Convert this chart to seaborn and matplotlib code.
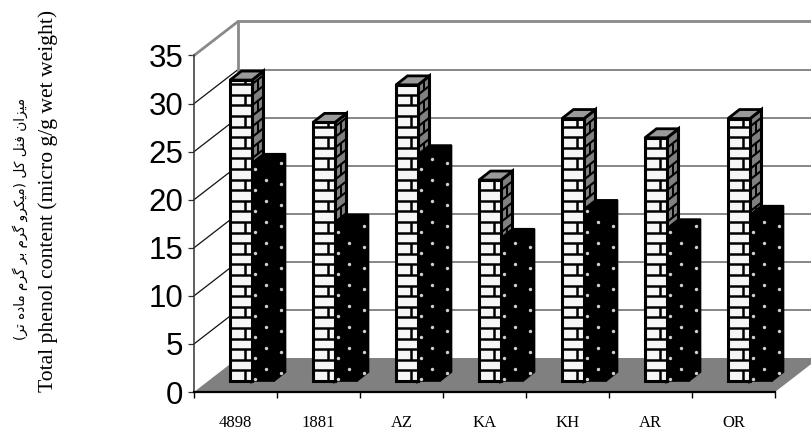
import matplotlib
matplotlib.use("Agg")
import matplotlib.pyplot as plt
import numpy as np
import pandas as pd
import seaborn as sns
from matplotlib.patches import Polygon

categories = ["4898", "1881", "AZ", "KA", "KH", "AR", "OR"]
series_a = [31.3, 26.9, 30.8, 20.9, 27.3, 25.3, 27.3]
series_b = [22.7, 16.4, 23.6, 14.9, 17.9, 15.9, 17.3]
yticks = [0, 5, 10, 15, 20, 25, 30, 35]
label_en = "Total phenol content (micro g/g wet weight)"
label_fa = "میزان فنل کل (میکرو گرم بر گرم ماده تر)"

FORMS = {
    "ا": "\uFE8D\uFE8E", "د": "\uFEA9\uFEAA", "ر": "\uFEAD\uFEAE", "ز": "\uFEAF\uFEB0", "و": "\uFEED\uFEEE",
    "ب": "\uFE8F\uFE90\uFE91\uFE92", "ت": "\uFE95\uFE96\uFE97\uFE98", "ف": "\uFED1\uFED2\uFED3\uFED4",
    "ک": "\uFB8E\uFB8F\uFB90\uFB91", "گ": "\uFB92\uFB93\uFB94\uFB95", "ل": "\uFEDD\uFEDE\uFEDF\uFEE0",
    "م": "\uFEE1\uFEE2\uFEE3\uFEE4", "ن": "\uFEE5\uFEE6\uFEE7\uFEE8", "ه": "\uFEE9\uFEEA\uFEEB\uFEEC",
    "ی": "\uFBFC\uFBFD\uFBFE\uFBFF",
}


def shape_rtl(text):
    out = []
    for i, c in enumerate(text):
        if c not in FORMS:
            out.append({"(": ")", ")": "("}.get(c, c))
            continue
        f = FORMS[c]
        prev = text[i - 1] if i else ""
        nxt = text[i + 1] if i + 1 < len(text) else ""
        from_prev = prev in FORMS and len(FORMS[prev]) == 4
        to_next = nxt in FORMS and len(f) == 4
        if from_prev and to_next:
            out.append(f[3])
        elif to_next:
            out.append(f[2])
        elif from_prev:
            out.append(f[1])
        else:
            out.append(f[0])
    return "".join(reversed(out))


W, H = 811, 436
sns.set_theme(style="white")
plt.rcParams["font.family"] = ["Liberation Sans", "DejaVu Sans"]
fig = plt.figure(figsize=(W / 100, H / 100), dpi=100, facecolor="white")
L, R, B0, T0 = 194, 775, 392, 55.5
ax = fig.add_axes([L / W, 1 - B0 / H, (R - L) / W, (B0 - T0) / H])

df = pd.DataFrame({
    "cat": categories * 2,
    "val": series_a + series_b,
    "s": ["a"] * len(categories) + ["b"] * len(categories),
})
sns.barplot(data=df, x="cat", y="val", hue="s", palette=["#f6f6f6", "black"], saturation=1,
            width=44 / 83, gap=0, legend=False, ax=ax, zorder=5)
ax.set_xlim(-0.5, 6.5)
ax.set_ylim(0, 35)
PX = 7 / (R - L)
PY = 35 / (B0 - T0)
DX, DY = 44 * PX, 34 * PY
xl, xr = -0.5, 6.5

# walls and floor
ax.add_patch(Polygon([(xl, 0), (xr, 0), (xr + DX, DY), (xl + DX, DY)], closed=True, fc="#808080", ec="none",
                     clip_on=False, zorder=1))
for v in yticks[1:-1]:
    ax.plot([xl, xl + DX], [v, v + DY], color="#111111", lw=0.9, clip_on=False, zorder=2)
    ax.plot([xl + DX, xr + DX], [v + DY, v + DY], color="#666666", lw=1.1, clip_on=False, zorder=2)
ax.plot([xl, xl + DX, xr + DX], [35, 35 + DY, 35 + DY], color="#8a8a8a", lw=2, clip_on=False, zorder=2)
ax.plot([xl + DX, xl + DX], [DY, 35 + DY], color="#8a8a8a", lw=2, clip_on=False, zorder=2)

# bars: lift and shift onto the floor, then add depth and textures
shift_x, shift_y = 16.5 * PX, 11 * PY
dx, dy = 11.5 * PX, 9 * PY
bars = [p for p in ax.patches if isinstance(p, matplotlib.patches.Rectangle) and p.get_height() > 0]
n = len(categories)
for i, p in enumerate(bars):
    p.set_x(p.get_x() + shift_x)
    p.set_y(shift_y)
    p.set_clip_on(False)
    x0, w, h = p.get_x(), p.get_width(), p.get_height()
    x1 = x0 + w
    y0, y1 = shift_y, shift_y + h
    is_brick = i < n
    base_z = 10 + 3 * (i % n) + (2 if not is_brick else 0)
    p.set_zorder(base_z + 1)
    p.set_edgecolor("black")
    p.set_linewidth(2.2 if is_brick else 1.2)
    side = Polygon([(x1, y0), (x1 + dx, y0 + dy), (x1 + dx, y1 + dy), (x1, y1)], closed=True,
                   fc="#808080" if is_brick else "black", ec="black", lw=2.2 if is_brick else 1.2,
                   clip_on=False, zorder=base_z)
    top = Polygon([(x0, y1), (x0 + dx, y1 + dy), (x1 + dx, y1 + dy), (x1, y1)], closed=True,
                  fc="#9a9a9a" if is_brick else "black", ec="black", lw=2 if is_brick else 1.2,
                  clip_on=False, zorder=base_z)
    ax.add_patch(side)
    ax.add_patch(top)
    if is_brick:
        course = 10.6 * PY
        k = 0
        yy = y0
        while yy < y1:
            z = base_z + 2
            ax.plot([x0, x1], [yy, yy], color="black", lw=1.8, clip_on=False, zorder=z, solid_capstyle="butt")
            ax.plot([x1, x1 + dx], [yy, yy + dy], color="black", lw=1.5, clip_on=False, zorder=z)
            top_y = min(yy + course, y1)
            if k % 2 == 0:
                ax.plot([x0 + 15 * PX] * 2, [yy, top_y], color="black", lw=1.8, clip_on=False, zorder=z,
                        solid_capstyle="butt")
            else:
                ax.plot([x1 + 5.5 * PX] * 2, [yy + 0.48 * dy, top_y + 0.48 * dy],
                        color="black", lw=1.4, clip_on=False, zorder=z, solid_capstyle="butt")
            yy += course
            k += 1
    else:
        xs, ys = [], []
        for col_x, start in [(x0 + 3 * PX, 2), (x0 + 14 * PX, 12), (x1 + 7 * PX, 8)]:
            lim = y1 + (5 * PY if col_x > x1 else 0)
            for yp in np.arange(start, 400, 21):
                yv = y0 + yp * PY
                if yv < lim - 2 * PY:
                    xs.append(col_x)
                    ys.append(yv)
        ax.scatter(xs, ys, s=6, color="#cfcfcf", linewidths=0, clip_on=False, zorder=base_z + 2)

# axes
for s in ["top", "right"]:
    ax.spines[s].set_visible(False)
ax.spines["left"].set_color("#333333")
ax.spines["left"].set_linewidth(1.1)
ax.spines["bottom"].set_color("black")
ax.spines["bottom"].set_linewidth(1.6)
ax.spines["bottom"].set_zorder(4)
ax.set_xlabel("")
ax.set_ylabel("")
ax.set_yticks(yticks)
ax.set_yticklabels([str(v) for v in yticks], fontsize=22.5, color="black", family="Liberation Sans")
ax.tick_params(axis="y", left=True, length=4.3, width=0.9, color="#333333", pad=3.4, direction="out")
ax.set_xticks(np.arange(-0.5, 7, 1))
ax.set_xticklabels([])
ax.set_xticks(np.arange(7), minor=True)
ax.set_xticklabels(categories, minor=True, fontsize=12, family="Liberation Serif", color="black")
ax.tick_params(axis="x", which="major", bottom=True, length=4.5, width=1, color="black", direction="out")
ax.tick_params(axis="x", which="minor", bottom=False, length=0, pad=16.5)

fig.text(48 / W, 1 - 201 / H, label_en, rotation=90, ha="center", va="center", fontsize=15.6,
         family="Liberation Serif", color="black")
fig.text(20 / W, 1 - 219 / H, shape_rtl(label_fa), rotation=90, ha="center", va="center", fontsize=9.8,
         family="DejaVu Sans", color="black")
fig.savefig("out.png", dpi=100, facecolor="white")
